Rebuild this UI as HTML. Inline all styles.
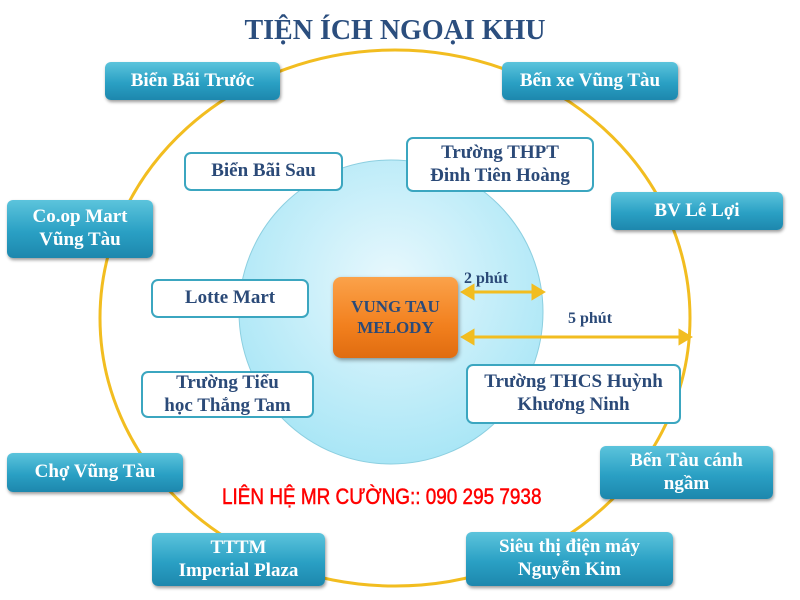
<!DOCTYPE html>
<html><head><meta charset="utf-8"><style>
body{margin:0;width:800px;height:600px;background:#fff;overflow:hidden;position:relative;font-family:"Liberation Serif",serif;}
.b{position:absolute;box-sizing:border-box;display:flex;align-items:center;justify-content:center;text-align:center;font-weight:bold;line-height:1.2;}
.t{background:linear-gradient(#5cc4dc,#2aa0c4 55%,#1d87ad);color:#fff;border-radius:6px;font-size:19px;box-shadow:1px 2px 3px rgba(0,0,0,.4);}
.w{background:#fff;border:2px solid #3ba6c0;color:#2b4a78;border-radius:7px;font-size:19px;}
.lbl{position:absolute;font-weight:bold;color:#2b4a78;font-size:16px;}
</style></head><body>
<svg width="800" height="600" style="position:absolute;left:0;top:0">
<defs><radialGradient id="g" cx="50%" cy="40%" r="60%"><stop offset="0" stop-color="#e8f8fd"/><stop offset="1" stop-color="#a9e6f6"/></radialGradient></defs>
<ellipse cx="395" cy="318" rx="295" ry="268" fill="none" stroke="#f2bd20" stroke-width="3"/>
<circle cx="391" cy="312" r="152" fill="url(#g)" stroke="#8ccfe0" stroke-width="1"/>
<g stroke="#f2bd20" stroke-width="3" fill="#f2bd20">
<line x1="470" y1="292" x2="536" y2="292"/>
<polygon points="463,292 473,286 473,298"/><polygon points="543,292 533,286 533,298"/>
<line x1="470" y1="337" x2="682" y2="337"/>
<polygon points="463,337 473,331 473,343"/><polygon points="690,337 680,331 680,343"/>
</g>
</svg>
<div style="position:absolute;left:0;width:790px;top:15px;text-align:center;font-size:28px;font-weight:bold;color:#2b4e7e;">TIỆN ÍCH NGOẠI KHU</div>
<div class="b t" style="left:105px;top:62px;width:175px;height:38px">Biển Bãi Trước</div>
<div class="b t" style="left:502px;top:62px;width:176px;height:38px">Bến xe Vũng Tàu</div>
<div class="b t" style="left:7px;top:200px;width:146px;height:58px">Co.op Mart<br>Vũng Tàu</div>
<div class="b t" style="left:611px;top:192px;width:172px;height:38px">BV Lê Lợi</div>
<div class="b t" style="left:7px;top:453px;width:176px;height:39px">Chợ Vũng Tàu</div>
<div class="b t" style="left:600px;top:446px;width:173px;height:53px">Bến Tàu cánh<br>ngầm</div>
<div class="b t" style="left:152px;top:533px;width:173px;height:53px">TTTM<br>Imperial Plaza</div>
<div class="b t" style="left:466px;top:532px;width:207px;height:54px">Siêu thị điện máy<br>Nguyễn Kim</div>
<div class="b w" style="left:184px;top:152px;width:159px;height:39px">Biển Bãi Sau</div>
<div class="b w" style="left:406px;top:137px;width:188px;height:55px">Trường THPT<br>Đinh Tiên Hoàng</div>
<div class="b w" style="left:151px;top:279px;width:158px;height:39px">Lotte Mart</div>
<div class="b w" style="left:141px;top:371px;width:173px;height:47px">Trường Tiểu<br>học Thắng Tam</div>
<div class="b w" style="left:466px;top:364px;width:215px;height:60px">Trường THCS Huỳnh<br>Khương Ninh</div>
<div class="b" style="left:333px;top:277px;width:125px;height:81px;border-radius:8px;background:linear-gradient(#fba24a,#f2801e 60%,#e06c10);color:#2b4a78;font-size:17px;box-shadow:1px 2px 4px rgba(0,0,0,.4)">VUNG TAU<br>MELODY</div>
<div class="lbl" style="left:464px;top:270px">2 phút</div>
<div class="lbl" style="left:568px;top:310px">5 phút</div>
<div style="position:absolute;left:222px;top:484px;font-family:'Liberation Sans',sans-serif;font-size:22px;color:#f00;transform:scaleX(0.86);transform-origin:left top;white-space:nowrap;-webkit-text-stroke:0.5px #f00;">LIÊN HỆ MR CƯỜNG:: 090 295 7938</div>
</body></html>
